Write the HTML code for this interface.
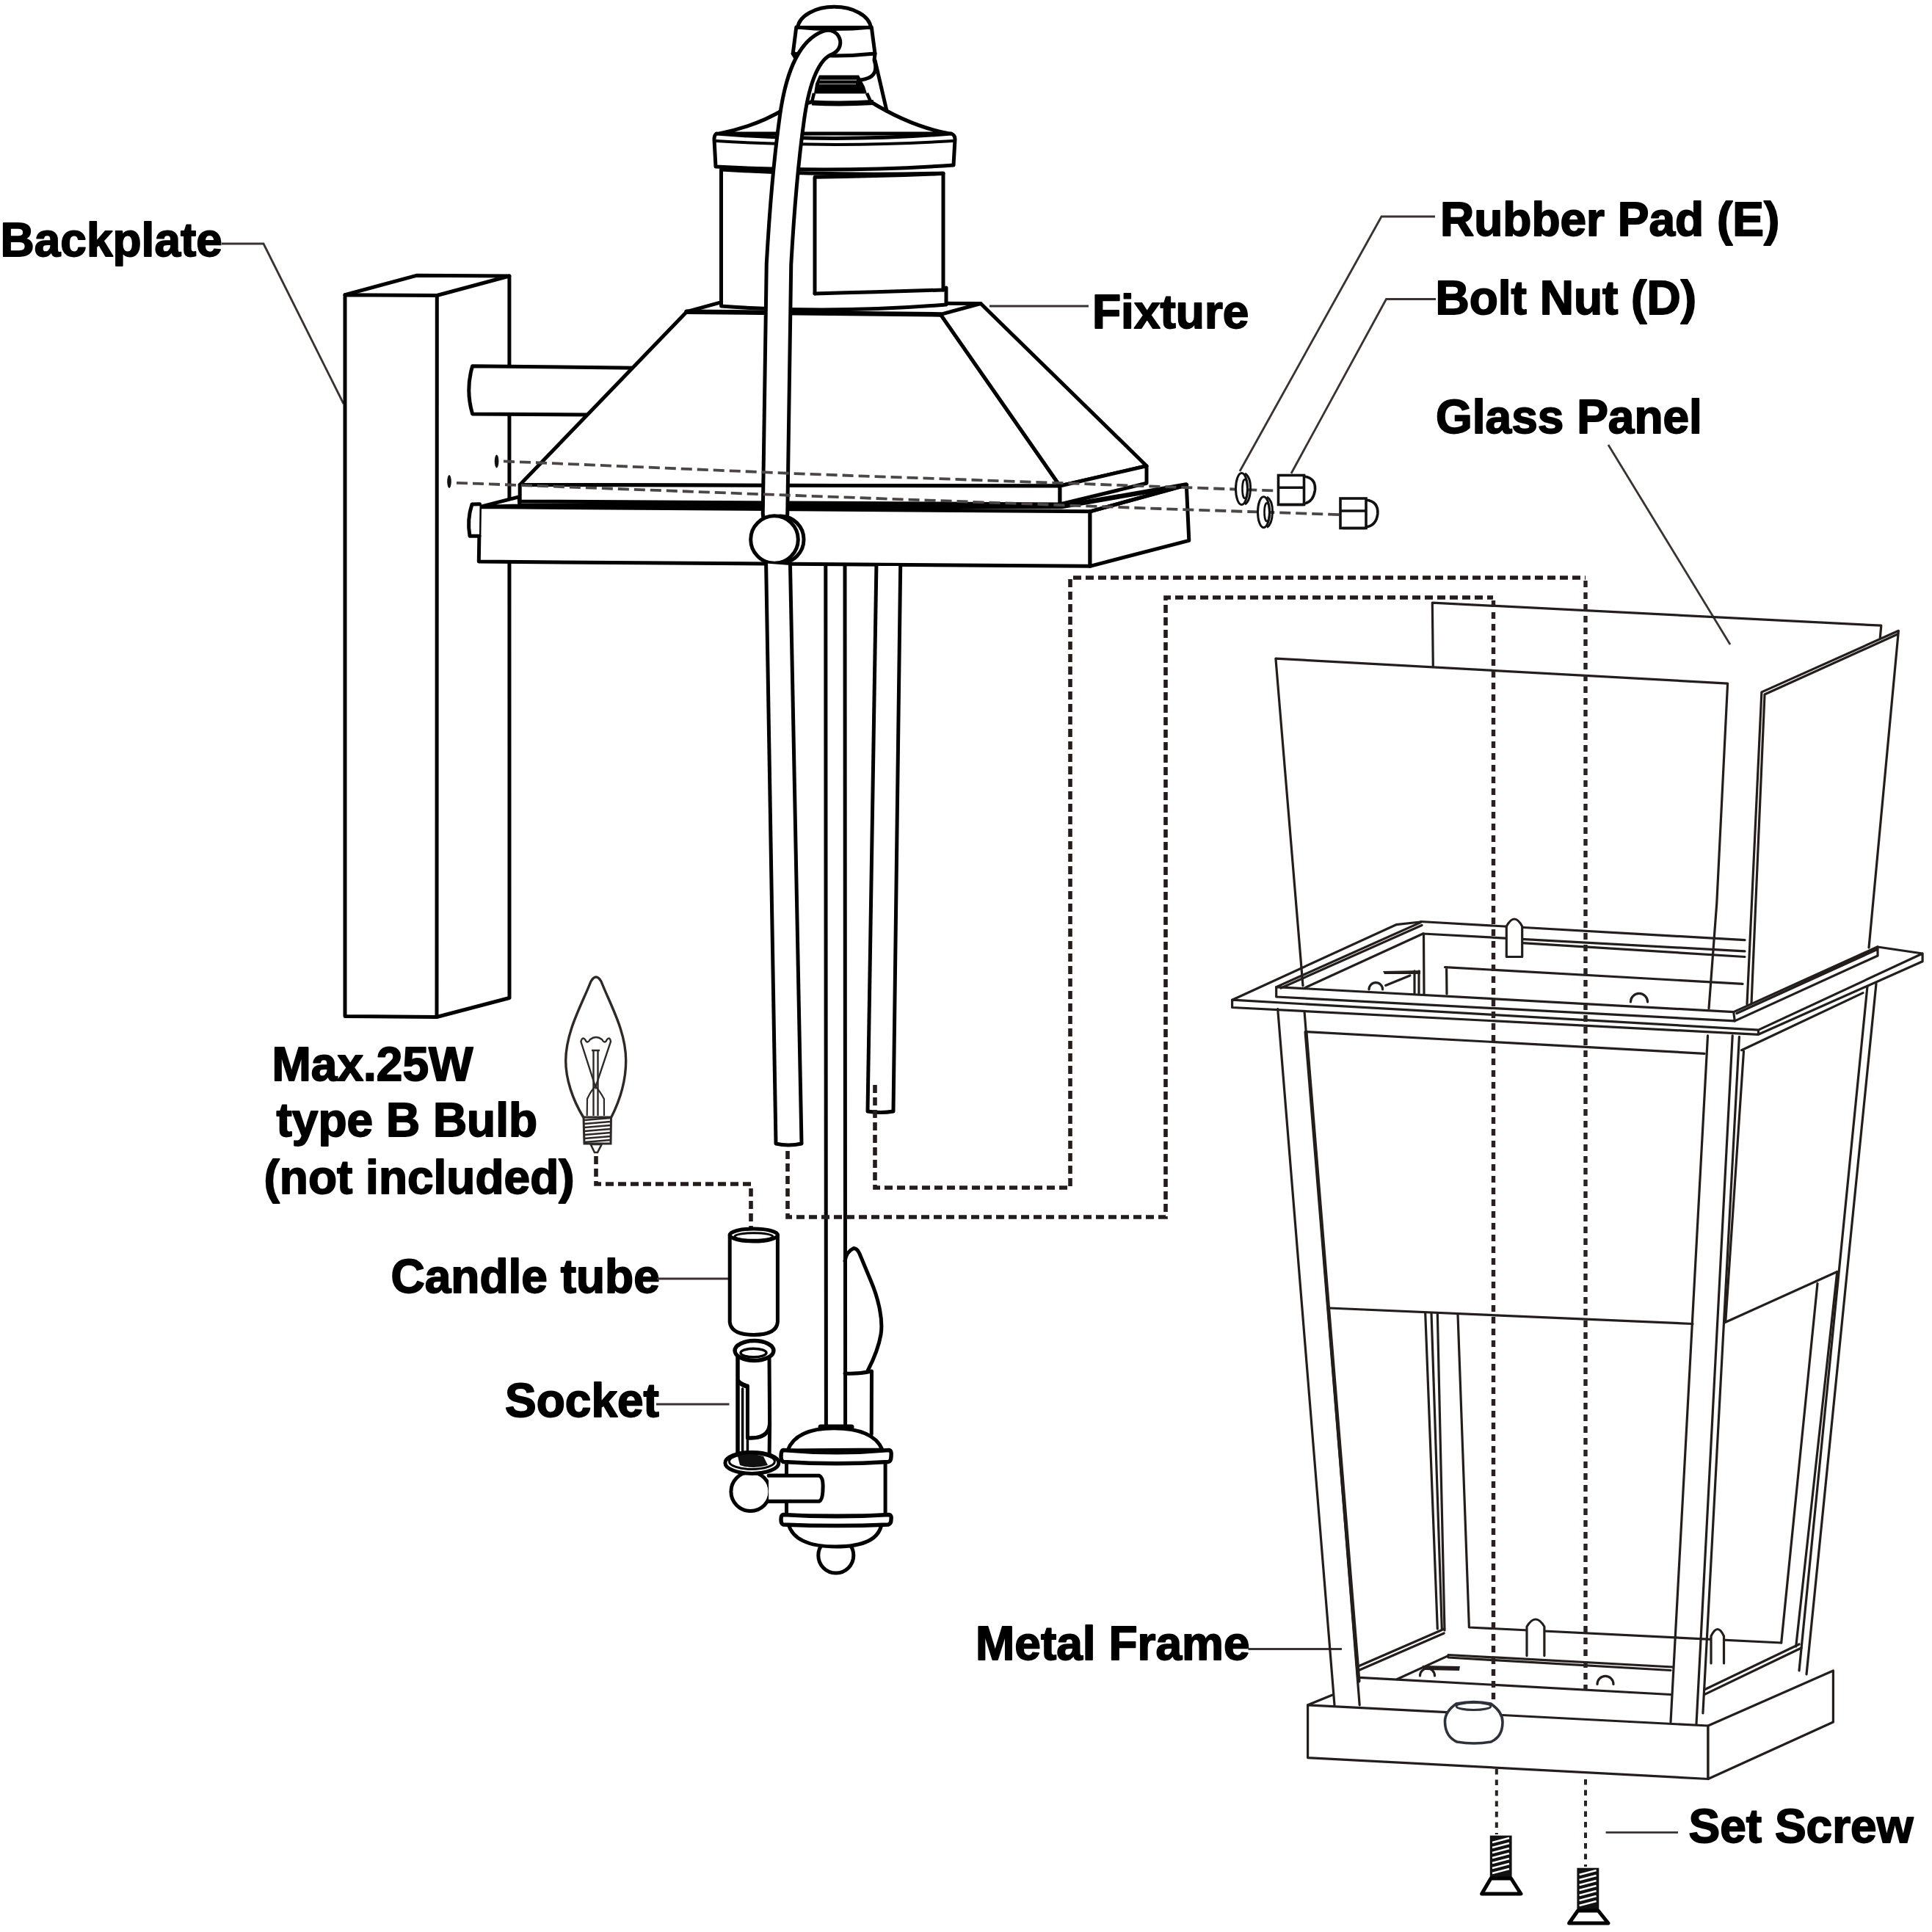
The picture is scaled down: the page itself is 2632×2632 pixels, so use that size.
<!DOCTYPE html>
<html><head><meta charset="utf-8"><style>
html,body{margin:0;padding:0;background:#fff;}
svg{display:block;}
text{font-family:"Liberation Sans",sans-serif;font-weight:bold;font-size:64px;fill:#000;stroke:#000;stroke-width:1.8;stroke-linejoin:round;}
.k{fill:none;stroke:#000;stroke-width:5;stroke-linejoin:round;stroke-linecap:round;}
.kw{fill:#fff;stroke:#000;stroke-width:5;stroke-linejoin:round;stroke-linecap:round;}
.k4{fill:none;stroke:#000;stroke-width:4;stroke-linejoin:round;stroke-linecap:round;}
.k6{fill:none;stroke:#000;stroke-width:6.5;stroke-linejoin:round;stroke-linecap:round;}
.t{fill:none;stroke:#231e1b;stroke-width:3.2;stroke-linejoin:round;stroke-linecap:round;}
.tw{fill:#fff;stroke:#231e1b;stroke-width:3.2;stroke-linejoin:round;stroke-linecap:round;}
.ld{fill:none;stroke:#3a3230;stroke-width:2.8;}
.dsh{fill:none;stroke:#4c4644;stroke-width:3.8;stroke-dasharray:15 7;}
.dot{fill:none;stroke:#231c1a;stroke-width:5.6;stroke-dasharray:11 6;}
.dotv{fill:none;stroke:#2a2220;stroke-width:5.4;stroke-dasharray:9 7;}
</style></head><body>
<svg width="2632" height="2632" viewBox="0 0 2632 2632">
<rect width="2632" height="2632" fill="#fff"/>

<!-- ===== TEXT ===== -->
<text x="0.5" y="348.5">Backplate</text>
<text x="1488" y="446.5">Fixture</text>
<text x="1962" y="320.5">Rubber Pad (E)</text>
<text x="1955.5" y="427.5">Bolt Nut (D)</text>
<text x="1956" y="589.5">Glass Panel</text>
<text x="370.5" y="1472">Max.25W</text>
<text x="376.5" y="1548">type B Bulb</text>
<text x="359.5" y="1625.5">(not included)</text>
<text x="532.5" y="1760.5">Candle tube</text>
<text x="688" y="1930">Socket</text>
<text x="1329" y="2260.5">Metal Frame</text>
<text x="2300.5" y="2509.5">Set Screw</text>

<!-- ===== LEADERS ===== -->
<path class="ld" d="M302 332 L359 332 L468 550"/>
<path class="ld" d="M1348 417 L1483 417"/>
<path class="ld" d="M1955 295 L1882 295 L1689 642"/>
<path class="ld" d="M1956 407.5 L1888.5 407.5 L1759 645"/>
<path class="ld" d="M2191 606 L2357 878"/>
<path class="ld" d="M895 1742 L994 1742"/>
<path class="ld" d="M894 1913 L993.5 1913"/>
<path class="ld" d="M1700.5 2246.5 L1828 2246.5"/>
<path class="ld" d="M2187.6 2496.3 L2286 2496.3"/>

<!-- ===== BACKPLATE ===== -->
<g id="backplate">
<path class="k" d="M470 401.7 L470 1384.5 L595 1385.5 L595.3 402.5 Z"/>
<path class="k" d="M470 401.7 L567.3 375.3 L693.9 376 L595.3 402.5"/>
<path class="k" d="M693.9 376 L694 1359.5 L595 1385.5"/>
</g>

<!-- ===== ARM ===== -->
<path class="kw" d="M866 501.2 L643.6 498.8 Q634 531 643.6 563.9 L803 565.1"/>

<!-- ===== FIXTURE HOOD ===== -->
<g id="hood">
<!-- hood faces -->
<path class="kw" d="M935.5 424.7 L1281.4 428.4 L1444 662 L708.2 660.5 Z"/>
<path class="kw" d="M1281.4 428.4 L1336 413.5 L1562 634.7 L1444 662 Z"/>
<path class="k6" d="M935.5 424.7 L1281.4 428.4"/>
<path class="k" d="M935.5 424.7 L980.2 412.3 L1336 413.5"/>
<!-- rim -->
<path class="kw" d="M708.2 660.5 L1444 662 L1444 687 L708.2 683 Z"/>
<path class="kw" d="M1444 662 L1562 634.7 L1562 658.3 L1444 687 Z"/>
</g>

<!-- ===== BASE PLATE ===== -->
<g id="base">
<path class="kw" d="M653.5 690.6 L1485 696.8 L1485 771.3 L652.3 765.1 Z"/>
<path class="kw" d="M1485 696.8 L1616.3 660.7 L1619.8 736.4 L1485 771.3 Z"/>
<path class="k6" d="M708 689 L1446 690 L1616 660.5"/>
<path class="k" d="M1485 696.8 L1616 661"/>
<path class="kw" d="M653.5 690.6 L707 676.9 L708 689 Z"/>
<path class="kw" d="M653.5 686.8 L643 687 Q636 708 640 730.3 L653 730.3"/>
</g>

<!-- ===== UPPER CYLINDER / CAP ===== -->
<g id="cap">
<path class="kw" d="M982.5 231 L982.5 417 Q1130 428 1289 415 L1289 392 L1285 394.9 L1285 236 Q1130 240 982.5 231 Z"/>
<path class="k" d="M1110 399.9 L1110 241.3 Q1200 240 1285 236.6"/>
<path class="k" d="M1110 399.9 Q1200 398 1285 394.9"/>
<path class="kw" d="M980 182 Q1030 172 1068 149 L1109 138 L1185 138 Q1240 172 1292 181.7 L1294 182 Z"/>
<path class="kw" d="M976 182 Q1140 195 1296 182 Q1301 184 1301 190 L1299 225 Q1140 236 975 227 L973 190 Q973 184 976 182 Z"/>
<path class="k4" d="M976 192 Q1140 202 1298 192"/>
<path d="M1107 128 L1107 139 L1187 139 L1180 128 Z" fill="#fff"/>
<path d="M1116 102.5 L1170 102.5 L1178 118 L1181 127.5 L1109 127.5 L1111 114 Z" fill="#000"/>
<path d="M1117 109.2 L1167 109.2 M1116 114.3 L1166 114.3" stroke="#777" stroke-width="1.8"/>
<path d="M1109 127 L1106 139 M1181 127 L1186 138" stroke="#000" stroke-width="4.5"/>
<path d="M1106 140 Q1148 142 1190 139.5" stroke="#000" stroke-width="7" fill="none"/>
<path class="kw" d="M1084.8 37 Q1136 42 1187.3 37 L1192 73 Q1136 79 1080.2 73 Z"/>
<path class="kw" d="M1086.7 37.5 A50 30.5 0 0 1 1186.4 37.5 Z"/>
<path class="k" d="M1080.2 73 L1088.6 87.6 M1192 73 L1191 82 Q1199 106 1172 109 M1192 82 L1208 151"/>
</g>

<!-- ===== CURVED TUBE (top) ===== -->
<path d="M1128 58 C1100 68 1086 110 1079 160 C1072 210 1066 270 1061 360 L1056 700" fill="none" stroke="#000" stroke-width="38.5" stroke-linecap="round"/>
<path d="M1128 58 C1100 68 1086 110 1079 160 C1072 210 1066 270 1061 360 L1056 700" fill="none" stroke="#fff" stroke-width="28.5" stroke-linecap="round"/>

<!-- ball -->
<circle class="kw" cx="1063" cy="735" r="32"/>
<circle class="kw" cx="1055" cy="735" r="32.3"/>


<!-- ===== BOLT DASHED LINES ===== -->
<path class="dsh" d="M686 628.4 L1100 645.8 L1741 668.6"/>
<path class="dsh" d="M622 657.8 L1100 675.6 L1580 693 L1826 701.2"/>
<ellipse cx="676.6" cy="628.4" rx="2.8" ry="9" fill="#111"/>
<ellipse cx="612" cy="656" rx="2.8" ry="9" fill="#111"/>

<!-- ===== RODS BELOW BASE ===== -->
<path class="kw" d="M1043.6 767.6 L1057 1558 Q1074 1562 1092 1558 L1076.5 770"/>
<path class="k" d="M1124.8 771 L1125.4 1942 M1151 771 L1151.6 1942"/>
<path class="kw" d="M1193.9 771 L1182 1514 Q1200 1517 1217 1514 L1226.7 771"/>

<!-- ===== DOTTED CONNECTORS ===== -->
<path class="dot" d="M1192 1478 L1192 1618 L1458 1618 L1458 787 L2160 787"/>
<path class="dot" d="M1073 1568 L1073 1658 L1588 1658 L1588 814 L2034 814"/>
<path class="dot" d="M812 1575 L812 1613 L1023 1613 L1023 1681"/>
<path d="M2160 2424 L2160 2543" fill="none" stroke="#2a2220" stroke-width="4" stroke-dasharray="7.5 7"/>
<path d="M2038.8 2410 L2038.8 2499" fill="none" stroke="#2a2220" stroke-width="4" stroke-dasharray="7.5 7"/>

<!-- ===== PADS & NUTS ===== -->
<g>
<ellipse cx="1691.5" cy="666" rx="8" ry="21.5" fill="#fff" stroke="#111" stroke-width="3"/>
<path d="M1696 645 Q1704 650 1703.5 666 Q1703 683 1696 687" fill="none" stroke="#111" stroke-width="3"/>
<ellipse cx="1696" cy="666" rx="3.5" ry="13" fill="none" stroke="#111" stroke-width="2.6"/>
<path d="M1776.5 649 Q1793 651 1791.4 668 Q1789 684 1776.5 686" fill="#fff" stroke="#111" stroke-width="3.6"/>
<rect x="1741.5" y="647.5" width="35" height="40" fill="#fff" stroke="#111" stroke-width="3.6"/>
<path d="M1741 664.2 L1777 664.2 M1744 687.5 L1776 687.5" stroke="#111" stroke-width="3.6" fill="none"/>
<ellipse cx="1721.5" cy="697.7" rx="8" ry="21" fill="#fff" stroke="#111" stroke-width="3"/>
<path d="M1726 677 Q1734 682 1733.5 697.7 Q1733 714 1726 718.5" fill="none" stroke="#111" stroke-width="3"/>
<ellipse cx="1726" cy="697.7" rx="3.5" ry="12.5" fill="none" stroke="#111" stroke-width="2.6"/>
<path d="M1861 681 Q1878 683 1876.8 700 Q1875 716 1861 718" fill="#fff" stroke="#111" stroke-width="3.6"/>
<rect x="1826" y="679" width="35" height="40.5" fill="#fff" stroke="#111" stroke-width="3.6"/>
<path d="M1826 696 L1861 696 M1829 719.5 L1860 719.5" stroke="#111" stroke-width="3.6" fill="none"/>
</g>

<!-- ===== BULB ===== -->
<g>
<path d="M794.7 1522 C780 1498 770.7 1470 770.7 1445 C771 1405 792 1370 805 1337 Q812 1325 819 1337 C832 1370 852.7 1405 852.7 1445 C852.7 1470 845 1498 832.8 1522" fill="none" stroke="#2e2826" stroke-width="3.4"/>
<path d="M795 1522 L832.5 1522 L832 1558 L796 1558 Z" fill="#fff" stroke="#2e2826" stroke-width="3"/>
<path d="M796 1526 L832 1523 M796 1531 L832 1528 M796 1536 L832 1533 M796 1541 L832 1538 M796 1546 L832 1543 M796 1551 L832 1548 M796 1556 L832 1553" stroke="#2e2826" stroke-width="2.6"/>
<path d="M804.7 1559 L819.6 1559 L814 1570 L810 1570 Z" fill="#fff" stroke="#2e2826" stroke-width="2.6"/>
<path d="M791.4 1419 Q793 1412 797 1416 Q800 1423 804 1416 Q812 1410 820 1416 Q824 1423 827 1416 Q831 1412 832 1419 L811.3 1481 Z" fill="none" stroke="#2e2826" stroke-width="2.4"/>
<path d="M808.5 1432 L808.5 1520 M814.5 1432 L814.5 1520 M806 1431 L817 1431" stroke="#2e2826" stroke-width="2.4" fill="none"/>
<path d="M799.7 1520 L800 1497 Q805 1486 811 1480 Q817 1486 822.9 1497 L823 1520" stroke="#2e2826" stroke-width="2.2" fill="none"/>
</g>

<!-- ===== CANDLE TUBE ===== -->
<g>
<path class="kw" d="M994.2 1682.5 L994.2 1801 Q996 1818.4 1026.8 1818.4 Q1058 1818.4 1059.4 1801 L1059.4 1682.5"/>
<ellipse class="kw" cx="1026.8" cy="1682.5" rx="32.6" ry="8.5"/>
<ellipse class="k" cx="1026.8" cy="1684.5" rx="26" ry="4.8" style="stroke-width:3"/>
</g>

<!-- ===== SOCKET ===== -->
<g>
<path class="kw" d="M1005 1848 L1005 1990 L1048 1990 L1048.6 1940 Q1048 1959 1023 1959 L1018.4 1959 L1018.4 1888 Q1009 1886 1005 1880"/>
<path class="k" d="M1005 1848 L1005 1992 M1048 1848 L1048.6 1940 Q1047 1959 1023 1959 L1019 1959"/>
<path class="k" d="M1018.4 1890 L1018.4 1992 M1011.6 1892 L1011.6 1990" style="stroke-width:3.5"/>
<path class="k" d="M1005 1880 Q1008 1888 1018.4 1890" style="stroke-width:4"/>
<ellipse class="kw" cx="1027.5" cy="1840" rx="26.4" ry="13.5" style="stroke-width:5.5"/>
<ellipse class="k" cx="1026.5" cy="1843" rx="17.5" ry="5.8" style="stroke-width:3.5"/>
<circle class="kw" cx="1022.4" cy="2032" r="26.5"/>
<ellipse class="kw" cx="1024.4" cy="1992.9" rx="36.5" ry="14.5"/>
<ellipse class="k" cx="1024.4" cy="1991" rx="31" ry="10.5" style="stroke-width:3"/>
<path d="M1005 1984 Q1020 1978 1040 1984 L1046 1996 Q1025 2002 1008 1996 Z" fill="#111"/>
<path class="kw" d="M1047.3 2010.3 L1116 2010.3 Q1122 2013 1121 2028 Q1121 2043 1116 2045.3 L1047.3 2045.3"/>
</g>

<!-- ===== FLAME COVER ===== -->
<path class="k" d="M1151 1718 Q1153 1705 1163 1700.5 Q1168 1701 1171 1708 L1186 1744 C1198 1772 1203 1800 1200 1818 C1197 1836 1190 1852 1182.3 1867"/>
<path class="k" d="M1151 1871 Q1170 1872 1187.5 1868 L1187.2 1954"/>

<!-- ===== CANOPY ===== -->
<g>
<circle class="kw" cx="1138.8" cy="2119" r="24"/>
<path class="kw" d="M1074 2076 Q1082 2107 1138.8 2107 Q1196 2107 1201 2076 Z"/>
<rect class="kw" x="1071.5" y="1990" width="134.6" height="75"/>
<path class="kw" d="M1073 1976 Q1084 1946 1136 1945.8 Q1190 1946 1202 1975 Z"/>
<path class="kw" d="M1067 1975.5 Q1140 1982 1211 1975.5 Q1215 1976 1214 1984 Q1214 1991 1210 1991.5 Q1140 1996 1067 1991.5 Q1064 1990 1064 1984 Q1064 1976 1067 1975.5 Z" style="stroke-width:5.5"/>
<path class="kw" d="M1067 2063.5 Q1140 2068 1211 2063.5 Q1215 2064 1214 2070 Q1214 2076 1210 2077 Q1140 2080 1067 2077 Q1064 2076 1064 2070 Q1064 2064 1067 2063.5 Z" style="stroke-width:5.5"/>
<path class="k6" d="M1118 1944 L1160 1944" style="stroke-width:7"/>
<path class="kw" d="M1047.3 2010.3 L1116 2010.3 Q1122 2013 1121 2028 Q1121 2043 1116 2045.3 L1047.3 2045.3"/>
</g>


<!-- ===== GLASS PANELS ===== -->
<g id="glass">
<path class="t" d="M1952.3 907.5 L1951.3 821.1 L2562.8 852.2 L2561.3 869"/>
<path class="tw" d="M1775 1343 L1737.9 897.1 L2353.6 931.1 L2338.8 1230 L2328 1374"/>
<path class="tw" d="M2380 1368 L2399.9 942.9 L2586.4 859.3 L2546 1291"/>
<path class="t" d="M2386 1367 L2404 946 L2585 864"/>
</g>

<!-- ===== METAL FRAME ===== -->
<g id="frame">
<!-- back wall & interior -->
<path class="t" d="M1935.4 1255.5 L2377 1280.6 M1938.5 1272 L2377 1295.9 M2074 1284.6 L2377 1303.5"/>
<path class="t" d="M1939.5 1272 L1940 1354"/>
<path class="t" d="M1968.5 1317.6 L2374 1340.3 M1970.6 1318 L1971 1354"/>
<path class="tw" d="M2052.3 1303.5 L2052.3 1262 Q2063 1242 2073.7 1262 L2073.7 1303.5 Z"/>
<path class="t" d="M1865 1348 A9.3 9.3 0 0 1 1883.6 1348 M2221.4 1365 A11.6 11.6 0 0 1 2244.6 1365"/>
<path class="t" d="M1887.7 1342.5 L1920.9 1329 M1927 1322.8 L1927 1352.8 M1933 1322.8 L1933 1352.8"/>
<path d="M1884 1323 L1935 1322 L1935 1327 L1886 1327 Z" fill="#231e1b"/>
<!-- rim -->
<path class="t" d="M1738.7 1344.6 L1935.4 1256.6 M1745 1346 L1937 1260.5 M1778 1345.6 L1938.5 1272"/>
<path class="t" d="M1738.7 1344.6 L2361.7 1378.6 L2363.3 1390.9 L1738.7 1358 Z"/>
<path class="t" d="M2361.7 1378.6 L2558 1289.8 L2558 1302 L2363.3 1390.9 M2366 1380.5 L2556 1294"/>
<!-- flange -->
<path class="t" d="M1678.6 1362.2 L1902 1259.7 L1935 1256"/>
<path class="t" d="M1678.6 1362.2 L2395.5 1403.1 L2619.1 1299 L2619.1 1309.7 L2395.5 1409.3 L1678.6 1372.5 Z M2395.5 1403.1 L2395.5 1409.3 M2558 1290 L2619.1 1299"/>
<!-- posts -->
<path class="t" d="M1740.7 1374.6 L1818 2322.8"/>
<path class="t" d="M1777 1377.7 L1852.2 2322.8"/>
<path class="t" d="M1779 1406 L1851 2290" style="stroke-width:5"/>
<path class="t" d="M1780 1405.6 L2322 1435.3 M1811 1782 L2306 1803.5"/>
<path class="t" d="M2326.5 1410.8 L2276 2346 M2360.2 1410.8 L2311 2348.5 M2369.4 1412.3 L2319.9 2334"/>
<path class="t" d="M2372.5 1430.7 L2538 1352.6 M2350.7 1801.3 L2502.8 1732.5 M2375.5 1432.2 L2350.7 1801.3"/>
<path class="t" d="M2556 1340 L2461 2281 M2544 1343.4 L2451 2276"/>
<path class="t" d="M2502.8 1732.5 L2446.7 2243 M2476 1748.5 L2426.7 2238"/>
<!-- through-view interior bottom -->
<path class="t" d="M1941.7 1789 L1958.3 2219 M1950 1789 L1964.3 2219 M1958.3 1789 L1968 2221 M1986 1791 L2001.4 2217 L2426.7 2238"/>
<path class="t" d="M1852.2 2285.3 L2276 2308.5"/>
<path class="t" d="M1852.2 2269.3 L1967.2 2219.2 M1852.2 2275 L1967.2 2225"/>
<path class="t" d="M1973 2254.5 L2278.5 2271 M1973 2258 L2276 2275.5 M1903.5 2287.5 L1973 2255.6"/>
<path class="t" d="M2321.7 2308.6 L2454 2245 M2321.7 2302 L2451 2240"/>
<path class="tw" d="M2080 2255.6 L2080 2216 Q2092 2196 2103.9 2216 L2103.9 2255.6"/>
<path class="tw" d="M2331 2266 L2331 2229 Q2340 2210 2348.5 2229 L2348.5 2266"/>
<path class="t" d="M1934.5 2283 A10 10 0 0 1 1954.5 2283 M2176 2294.4 A11 11 0 0 1 2198 2294.4"/>
<path d="M1937.6 2269 L1988.9 2270 L1988 2276 L1940 2275 Z" fill="#231e1b"/>
</g>

<path class="dotv" d="M2160 791 L2160 2302"/>
<path class="dotv" d="M2034.5 818 L2034.5 2318"/>
<!-- ===== BASE BOX ===== -->
<g id="basebox">
<path class="tw" d="M1781.6 2322.8 L2327 2351 L2327 2423.5 L1781.6 2394.6 Z"/>
<path class="tw" d="M2327 2351 L2497.4 2276 L2497.4 2346 L2327 2423.5 Z"/>
<path class="t" d="M1781.6 2322.8 L1814.7 2309.2"/>
<path d="M1984 2321 Q1968 2332 1968.5 2346 Q1969 2366 1985 2373 Q2008 2377 2031 2373 Q2047 2366 2047 2346 Q2047 2332 2031 2321 Q2008 2316 1984 2321 Z" fill="#fff" stroke="#2d323a" stroke-width="3.6"/>
<ellipse cx="2007.5" cy="2324.5" rx="23.5" ry="5" fill="none" stroke="#2d323a" stroke-width="3"/>
</g>

<!-- ===== SCREWS ===== -->
<g>
<rect x="2029.8" y="2500.6" width="29.8" height="57.2" fill="#111"/>
<path d="M2033 2510 L2056 2504 M2033 2517 L2056 2511 M2033 2524 L2056 2518 M2033 2531 L2056 2525 M2033 2538 L2056 2532 M2033 2545 L2056 2539 M2033 2552 L2056 2546" stroke="#fff" stroke-width="2.4"/>
<path d="M2031 2559 L2058.6 2559 L2072 2580 L2018.6 2580 Z" fill="#fff" stroke="#000" stroke-width="5" stroke-linejoin="round"/>
<rect x="2148.4" y="2544.7" width="29.9" height="57.8" fill="#111"/>
<path d="M2151.6 2554 L2174.6 2548 M2151.6 2561 L2174.6 2555 M2151.6 2568 L2174.6 2562 M2151.6 2575 L2174.6 2569 M2151.6 2582 L2174.6 2576 M2151.6 2589 L2174.6 2583 M2151.6 2596 L2174.6 2590" stroke="#fff" stroke-width="2.4"/>
<path d="M2149.5 2603 L2177.3 2603 L2191 2620 L2137.6 2620 Z" fill="#fff" stroke="#000" stroke-width="5" stroke-linejoin="round"/>
</g>

</svg>
</body></html>
